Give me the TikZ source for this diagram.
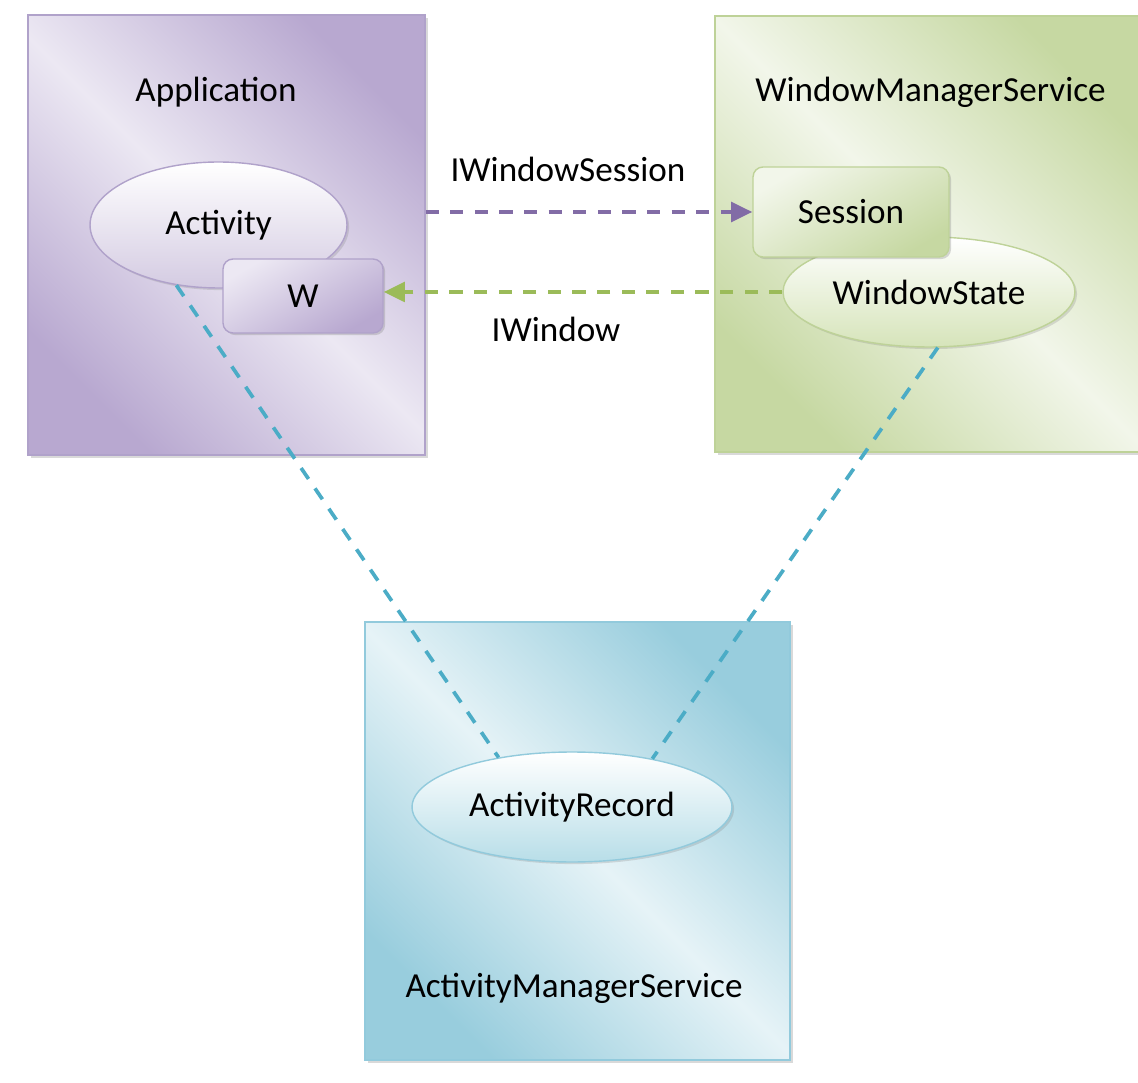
\documentclass[tikz,border=0pt]{standalone}
\usepackage{fontspec}
\setmainfont{Carlito}
\usetikzlibrary{positioning}
\usetikzlibrary{arrows.meta}
\usetikzlibrary{shapes.geometric}
\usetikzlibrary{shadows}
\definecolor{appdark}{RGB}{184,168,208}
\definecolor{applight}{RGB}{236,232,243}
\definecolor{appedge}{RGB}{176,162,202}
\definecolor{appoval}{RGB}{212,203,226}
\definecolor{wmsdark}{RGB}{198,216,162}
\definecolor{wmslight}{RGB}{242,246,234}
\definecolor{wmsedge}{RGB}{190,210,152}
\definecolor{wmsoval}{RGB}{214,228,186}
\definecolor{amsdark}{RGB}{152,205,221}
\definecolor{amslight}{RGB}{230,243,247}
\definecolor{amsedge}{RGB}{146,202,220}
\definecolor{amsoval}{RGB}{184,222,232}
\definecolor{applink}{RGB}{130,108,166}
\definecolor{wmslink}{RGB}{155,187,89}
\definecolor{amslink}{RGB}{75,172,198}
\tikzset{tips=proper}
\tikzset{%
    box/.style={rectangle, draw=#1edge, line width=0.8pt, inner sep=0,
        top color=#1dark, bottom color=#1dark, middle color=#1light, shading angle=-45,
        drop shadow={shadow xshift=1.6pt, shadow yshift=-1.6pt, opacity=0.3}},
    oval/.style={ellipse, draw=#1edge, line width=0.8pt, inner sep=0,
        top color=white, bottom color=#1oval,
        drop shadow={shadow xshift=1.2pt, shadow yshift=-1.2pt, opacity=0.25}},
    chip/.style={rectangle, rounded corners=0.2cm, draw=#1edge, line width=0.8pt, inner sep=0,
        top color=#1light, bottom color=#1dark, shading angle=30,
        drop shadow={shadow xshift=1.2pt, shadow yshift=-1.2pt, opacity=0.3}},
    link/.style={draw=#1, line width=2.3pt, dash pattern=on 7.5pt off 6.5pt},
    trace/.style={draw=amslink, line width=2.1pt, dash pattern=on 7.5pt off 6.5pt}
}
\begin{document}
\begin{tikzpicture}[x=0.02cm, y=0.02cm]
		\tikzstyle{every node}=[font=\fontsize{20}{24}\selectfont]
		\useasboundingbox (0,0) rectangle (1138,1082);

		% the three processes
		\node[box=app, minimum width=7.94cm, minimum height=8.8cm]  (appbox) at (226.5,847) {};
		\node[box=wms, minimum width=8.6cm, minimum height=8.72cm]  (wmsbox) at (930,848)   {};
		\node[box=ams, minimum width=8.5cm, minimum height=8.76cm]  (amsbox) at (577.5,241) {};

		\node[anchor=base] (applabel) at (216,980)   {Application};
		\node[anchor=base] (wmslabel) at (930.5,980) {WindowManagerService};
		\node[anchor=base] (amslabel) at (574,85)    {ActivityManagerService};

		% objects
		\node[oval=app, minimum width=5.14cm, minimum height=2.52cm] (activity) at (218.5,857) {Activity};
		\node[chip=app, minimum width=3.2cm, minimum height=1.48cm]  (w)        at (303,786)   {W};
		\node[oval=wms, minimum width=5.84cm, minimum height=2.2cm]  (winstate) at (929,790)   {WindowState};
		\node[chip=wms, minimum width=3.92cm, minimum height=1.8cm]  (session)  at (851,870)   {Session};
		\node[oval=ams, minimum width=6.4cm, minimum height=2.2cm]   (arec)     at (572,275)   {ActivityRecord};

		\draw[link=applink, -{Triangle[length=12pt,width=11pt]}]
		(appbox.east |- session.west) -- node [above=0.44cm,xshift=-0.42cm] {IWindowSession} (session.west);
		\draw[link=wmslink, -{Triangle[length=12pt,width=11pt]}]
		(winstate.west) -- node [below=0.34cm,xshift=-0.54cm] {IWindow} (w.east |- winstate.west);
		\path[trace]
		(activity.235) edge (arec.146)
		(winstate.279) edge (arec.31);
	\end{tikzpicture}
\end{document}
